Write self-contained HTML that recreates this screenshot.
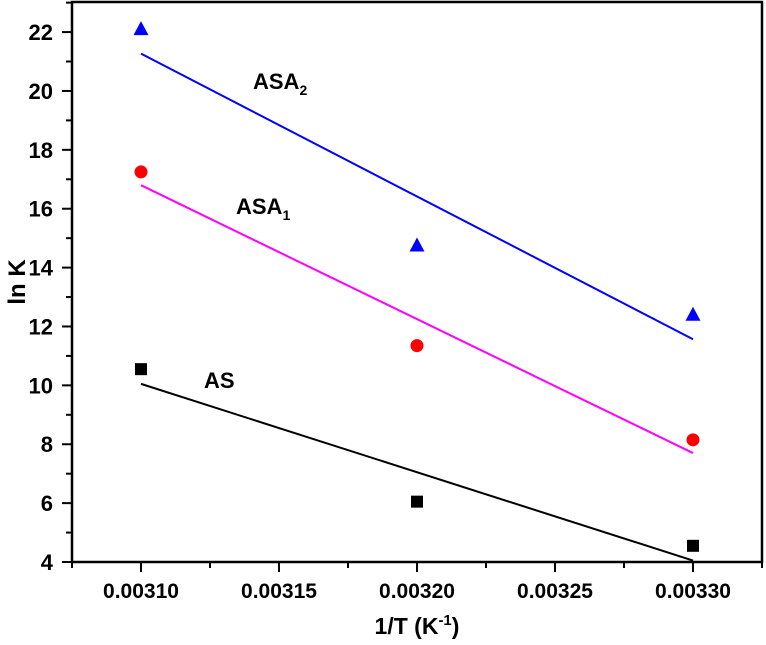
<!DOCTYPE html>
<html><head><meta charset="utf-8"><style>
body{margin:0;background:#fff;width:766px;height:640px;overflow:hidden}
svg text{font-family:"Liberation Sans",Arial,sans-serif;font-weight:bold;fill:#000}
</style></head><body>
<svg id="chart" width="766" height="640"></svg>
<script>
const xValues=[0.00310,0.00320,0.00330];
const asValues=[10.55,6.05,4.55];
const asa1Values=[17.25,11.35,8.15];
const asa2Values=[22.1,14.75,12.4];
const yTicks=[4,6,8,10,12,14,16,18,20,22];
const xTicks=[0.00310,0.00315,0.00320,0.00325,0.00330];
const xTickLabels=["0.00310","0.00315","0.00320","0.00325","0.00330"];
const L=72,R=762,T=2,B=562;
const X=v=>141+(v-0.00310)/0.0001*276;
const Y=v=>562-(v-4)*29.44;
const svg=document.getElementById('chart');
const NS='http://www.w3.org/2000/svg';
function mk(tag,attrs,parent){const e=document.createElementNS(NS,tag);for(const k in attrs)e.setAttribute(k,attrs[k]);(parent||svg).appendChild(e);return e;}
let e;
e=mk('rect',{x:L,y:T,width:R-L,height:B-T,fill:'none',stroke:'#000','stroke-width':2.5});


yTicks.forEach((t,i)=>{
  e=mk('line',{x1:L-10,x2:L,y1:Y(t),y2:Y(t),stroke:'#000','stroke-width':2});
  
  
  e=mk('line',{x1:L-6,x2:L,y1:Y(t+1),y2:Y(t+1),stroke:'#000','stroke-width':2});
  
  
  e=mk('text',{x:L-19,y:Y(t)+8,'text-anchor':'end','font-size':22});
  e.textContent=t;
  
  
});
xTicks.forEach((t,i)=>{
  e=mk('line',{x1:X(t),x2:X(t),y1:B,y2:B+10,stroke:'#000','stroke-width':2});
  
  
  e=mk('text',{x:X(t),y:B+36,'text-anchor':'middle','font-size':21});
  e.textContent=xTickLabels[i];
  
  
});
[0.003075,0.003125,0.003175,0.003225,0.003275,0.003325].forEach(t=>{
  if(X(t)<L||X(t)>R)return;
  e=mk('line',{x1:X(t),x2:X(t),y1:B,y2:B+6,stroke:'#000','stroke-width':2});
  
  
});
e=mk('text',{x:417,y:634,'text-anchor':'middle','font-size':23});
e.innerHTML='1/T (K<tspan font-size="15" dy="-9">-1</tspan><tspan dy="9">)</tspan>';


e=mk('text',{x:0,y:0,'text-anchor':'middle','font-size':24,transform:'translate(25,282) rotate(-90)'});
e.textContent='ln K';


function fit(ys){const n=xValues.length;const mx=xValues.reduce((a,b)=>a+b)/n,my=ys.reduce((a,b)=>a+b)/n;let sxy=0,sxx=0;xValues.forEach((x,i)=>{sxy+=(x-mx)*(ys[i]-my);sxx+=(x-mx)**2});const m=sxy/sxx;return x=>my+m*(x-mx);}
const series=[
 {name:'as',vals:asValues,line:'#000',mark:'#000',shape:'square'},
 {name:'asa1',vals:asa1Values,line:'#ff00ff',mark:'#ff0000',shape:'circle'},
 {name:'asa2',vals:asa2Values,line:'#0000ff',mark:'#0000ff',shape:'triangle'}];
series.forEach(s=>{
  const f=fit(s.vals);const x0=xValues[0],x1=xValues[xValues.length-1];
  e=mk('line',{x1:X(x0),y1:Y(f(x0)),x2:X(x1),y2:Y(f(x1)),stroke:s.line,'stroke-width':2});
  
  
  s.vals.forEach((v,i)=>{
    const cx=X(xValues[i]),cy=Y(v);
    if(s.shape==='square')e=mk('rect',{x:cx-6,y:cy-6,width:12,height:12,fill:s.mark});
    else if(s.shape==='circle')e=mk('circle',{cx:cx,cy:cy,r:6.5,fill:s.mark});
    else e=mk('polygon',{points:`${cx},${cy-8} ${cx-7.5},${cy+6} ${cx+7.5},${cy+6}`,fill:s.mark});
    
    
  });
});
const labels=[['ASA','2',253,89,'asa2-label'],['ASA','1',236,214,'asa1-label'],['AS','',204,388,'as-label']];
labels.forEach(l=>{
  e=mk('text',{x:l[2],y:l[3],'font-size':22});
  e.innerHTML=l[0]+(l[1]?`<tspan font-size="14" dy="6">${l[1]}</tspan>`:'');
  
  
});
</script>
</body></html>
